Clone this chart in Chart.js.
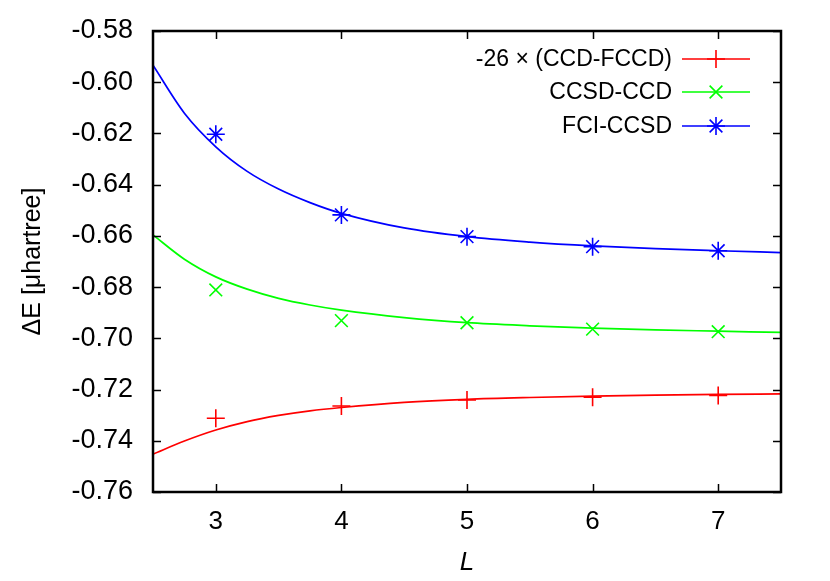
<!DOCTYPE html>
<html>
<head>
<meta charset="utf-8">
<script src="https://cdn.jsdelivr.net/npm/chart.js@4"></script>
<style>
html,body{margin:0;padding:0;background:#fff;}
canvas{display:block;}
</style>
</head>
<body>
<canvas id="c" width="830" height="581"></canvas>
<script>
// ---- data ----
const L = [3, 4, 5, 6, 7];
const xTicks = [3, 4, 5, 6, 7];
const redPts   = [-0.7312, -0.7264, -0.7241, -0.7230, -0.7223];
const greenPts = [-0.6811, -0.6931, -0.6939, -0.6964, -0.6974];
const bluePts  = [-0.6203, -0.6518, -0.6603, -0.6642, -0.6658];

const fitL     = [2.5, 2.75, 3, 3.25, 3.5, 3.75, 4, 4.5, 5, 5.5, 6, 6.5, 7, 7.5];
const redFit   = [-0.7452, -0.7401, -0.7358, -0.7325, -0.7301, -0.7283, -0.7270, -0.7250, -0.7238, -0.7231, -0.7226, -0.7222, -0.7219, -0.7217];
const greenFit = [-0.6596, -0.6691, -0.6760, -0.6808, -0.6844, -0.6870, -0.6890, -0.6919, -0.6939, -0.6951, -0.6960, -0.6967, -0.6972, -0.6977];
const blueFit  = [-0.5934, -0.6121, -0.6252, -0.6348, -0.6417, -0.6470, -0.6512, -0.6569, -0.6603, -0.6624, -0.6639, -0.6650, -0.6658, -0.6665];

const labels = ['-26 \u00d7 (CCD-FCCD)', 'CCSD-CCD', 'FCI-CCSD'];
const colors = ['#ff0000', '#00ff00', '#0000ff'];
const styles = ['cross', 'crossRot', 'star'];

const FONT = '"Liberation Sans", Arial, Helvetica, sans-serif';

function pts(xs, ys) { return xs.map((x, i) => ({x: x, y: ys[i]})); }

const ptSets = [redPts, greenPts, bluePts];
const fitSets = [redFit, greenFit, blueFit];
const datasets = [];
for (let i = 0; i < 3; i++) {
  datasets.push({
    label: labels[i], isPoints: true, idx: i,
    data: pts(L, ptSets[i]), showLine: false,
    pointStyle: styles[i], pointRadius: 9, pointBorderWidth: 1.6,
    borderColor: colors[i], backgroundColor: colors[i], pointHoverRadius: 9
  });
  datasets.push({
    label: labels[i] + ' fit', isPoints: false,
    data: pts(fitL, fitSets[i]), showLine: true, pointRadius: 0,
    borderColor: colors[i], borderWidth: 1.7, cubicInterpolationMode: 'monotone', fill: false
  });
}

const TL = 8;
const framePlugin = {
  id: 'frame',
  afterDatasetsDraw(chart) {
    const {ctx, chartArea: a, scales} = chart;
    ctx.save();
    ctx.strokeStyle = '#000';
    ctx.lineWidth = 1.5;
    ctx.beginPath();
    scales.y.ticks.forEach(t => {
      const y = Math.round(scales.y.getPixelForValue(t.value)) + 0.5;
      ctx.moveTo(a.left, y); ctx.lineTo(a.left + TL, y);
      ctx.moveTo(a.right, y); ctx.lineTo(a.right - TL, y);
    });
    scales.x.ticks.forEach(t => {
      const x = Math.round(scales.x.getPixelForValue(t.value)) + 0.5;
      ctx.moveTo(x, a.bottom); ctx.lineTo(x, a.bottom - TL);
      ctx.moveTo(x, a.top); ctx.lineTo(x, a.top + TL);
    });
    ctx.stroke();
    ctx.lineWidth = 2.5;
    ctx.strokeRect(a.left, a.top, a.right - a.left, a.bottom - a.top);
    // legend
    const rowY = [59, 92, 126];
    ctx.font = '23px ' + FONT;
    ctx.textAlign = 'right';
    ctx.textBaseline = 'middle';
    chart.data.datasets.filter(d => d.isPoints).forEach((d, k) => {
      const y = rowY[k];
      ctx.fillStyle = '#000';
      ctx.fillText(d.label, 672, y + 1);
      ctx.strokeStyle = d.borderColor;
      ctx.lineWidth = 1.7;
      ctx.beginPath(); ctx.moveTo(682, y); ctx.lineTo(750, y); ctx.stroke();
      ctx.lineWidth = 1.6;
      Chart.helpers.drawPoint(ctx, {pointStyle: d.pointStyle, radius: 9, borderWidth: 1.6}, 716, y);
    });
    ctx.restore();
  }
};

new Chart(document.getElementById('c'), {
  type: 'scatter',
  data: {datasets: datasets},
  options: {
    responsive: false, animation: false, devicePixelRatio: 1,
    layout: {padding: {top: 31, right: 49, left: 0, bottom: 0}},
    plugins: {legend: {display: false}, tooltip: {enabled: false}},
    elements: {line: {tension: 0}},
    scales: {
      x: {
        type: 'linear', min: 2.5, max: 7.5,
        afterBuildTicks: s => { s.ticks = xTicks.map(v => ({value: v})); },
        afterFit: s => { s.height = 89; s.paddingLeft = 0; s.paddingRight = 0; },
        grid: {display: false, drawTicks: false},
        border: {display: false},
        ticks: {padding: 14, color: '#000', font: {family: FONT, size: 26}, callback: v => String(v)},
        title: {display: true, text: 'L', color: '#000', font: {family: FONT, size: 26, style: 'italic'}, padding: {top: 0, bottom: 3}}
      },
      y: {
        type: 'linear', min: -0.76, max: -0.58,
        ticks: {stepSize: 0.02, padding: 20, color: '#000', font: {family: FONT, size: 27}, callback: v => v.toFixed(2)},
        afterFit: s => { s.width = 153; s.paddingTop = 0; s.paddingBottom = 0; },
        grid: {display: false, drawTicks: false},
        border: {display: false},
        title: {display: true, text: '\u0394E [\u03bchartree]', color: '#000', font: {family: FONT, size: 25}, padding: {top: 18, bottom: 0}}
      }
    }
  },
  plugins: [framePlugin]
});
</script>
</body>
</html>
